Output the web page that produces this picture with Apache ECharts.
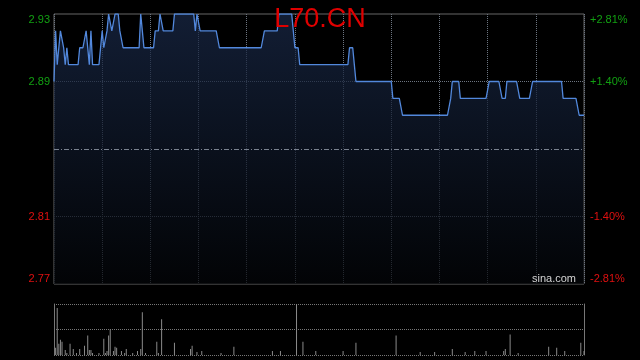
<!DOCTYPE html>
<html><head><meta charset="utf-8">
<script src="https://cdn.jsdelivr.net/npm/echarts@6/dist/echarts.min.js"></script>
<style>html,body{margin:0;padding:0;background:#000}#c{width:640px;height:360px}</style>
</head><body><div id="c"></div>
<script>
const titleText = 'L70.CN';
const prevClose = 2.85;
const priceTicks = [2.77, 2.81, 2.85, 2.89, 2.93];
const leftTickLabels = ['2.77', '2.81', '', '2.89', '2.93'];
const rightTickLabels = ['-2.81%', '-1.40%', '', '+1.40%', '+2.81%'];

// one price per minute slot (331 slots)
const prices = [
2.89,2.92,2.90,2.91,2.92,2.92,2.91,2.90,2.91,2.90,
2.90,2.90,2.90,2.90,2.90,2.90,2.91,2.91,2.91,2.91,
2.92,2.92,2.90,2.92,2.90,2.90,2.90,2.90,2.90,2.90,
2.92,2.91,2.91,2.92,2.93,2.93,2.92,2.92,2.93,2.93,
2.93,2.92,2.92,2.91,2.91,2.91,2.91,2.91,2.91,2.91,
2.91,2.91,2.91,2.91,2.93,2.92,2.91,2.91,2.91,2.91,
2.91,2.91,2.91,2.92,2.92,2.92,2.93,2.93,2.92,2.92,
2.92,2.92,2.92,2.92,2.92,2.93,2.93,2.93,2.93,2.93,
2.93,2.93,2.93,2.93,2.93,2.93,2.93,2.93,2.92,2.93,
2.93,2.92,2.92,2.92,2.92,2.92,2.92,2.92,2.92,2.92,
2.92,2.92,2.92,2.91,2.91,2.91,2.91,2.91,2.91,2.91,
2.91,2.91,2.91,2.91,2.91,2.91,2.91,2.91,2.91,2.91,
2.91,2.91,2.91,2.91,2.91,2.91,2.91,2.91,2.91,2.91,
2.91,2.92,2.92,2.92,2.92,2.92,2.92,2.92,2.92,2.92,
2.93,2.93,2.93,2.93,2.93,2.93,2.93,2.93,2.93,2.93,
2.91,2.91,2.91,2.90,2.90,2.90,2.90,2.90,2.90,2.90,
2.90,2.90,2.90,2.90,2.90,2.90,2.90,2.90,2.90,2.90,
2.90,2.90,2.90,2.90,2.90,2.90,2.90,2.90,2.90,2.90,
2.90,2.90,2.90,2.90,2.91,2.91,2.91,2.90,2.89,2.89,
2.89,2.89,2.89,2.89,2.89,2.89,2.89,2.89,2.89,2.89,
2.89,2.89,2.89,2.89,2.89,2.89,2.89,2.89,2.89,2.89,
2.89,2.88,2.88,2.88,2.88,2.88,2.88,2.87,2.87,2.87,
2.87,2.87,2.87,2.87,2.87,2.87,2.87,2.87,2.87,2.87,
2.87,2.87,2.87,2.87,2.87,2.87,2.87,2.87,2.87,2.87,
2.87,2.87,2.87,2.87,2.87,2.87,2.87,2.88,2.89,2.89,
2.89,2.89,2.89,2.88,2.88,2.88,2.88,2.88,2.88,2.88,
2.88,2.88,2.88,2.88,2.88,2.88,2.88,2.88,2.88,2.88,
2.88,2.89,2.89,2.89,2.89,2.89,2.89,2.89,2.89,2.88,
2.88,2.88,2.89,2.89,2.89,2.89,2.89,2.89,2.89,2.89,
2.88,2.88,2.88,2.88,2.88,2.88,2.88,2.88,2.89,2.89,
2.89,2.89,2.89,2.89,2.89,2.89,2.89,2.89,2.89,2.89,
2.89,2.89,2.89,2.89,2.89,2.89,2.89,2.88,2.88,2.88,
2.88,2.88,2.88,2.88,2.88,2.88,2.88,2.87,2.87,2.87,
2.87
];

// traded volume: minute slot and volume (other slots ~0)
const volMinutes = [1,2,3,4,5,7,8,10,12,14,16,19,21,22,23,24,28,31,32,33,34,35,37,38,39,42,44,45,49,52,54,55,57,64,65,67,75,85,86,89,92,104,112,136,141,151,155,163,180,188,213,228,237,248,256,262,269,280,281,284,289,308,313,318,328,330];
const volValues  = [7,46,11,15,13,5,2,11,6,2,6,9,19,5,5,2,2,16,2,4,19,25,4,8,7,4,2,6,2,4,6,42,2,13,2,35,12,6,9,3,4,2,8,4,4,50,13,4,4,12,19,3,3,6,3,4,4,4,6,20,2,8,7,4,12,4];

const slotCount = 331;
const volMax = 50;

const UP = '#12a012', DOWN = '#e01010';
function tickIdx(v) {
  for (let k = 0; k < priceTicks.length; k++) if (Math.abs(v - priceTicks[k]) < 1e-6) return k;
  return -1;
}
function tickColor(v) { return v > prevClose + 1e-6 ? UP : DOWN; }

const chart = echarts.init(document.getElementById('c'), null, {renderer: 'canvas'});
chart.setOption({
  animation: false,
  backgroundColor: '#000',
  title: {
    text: titleText, left: 'center', top: 1,
    textStyle: {color: '#e00000', fontSize: 27, fontWeight: 'normal', fontFamily: 'Liberation Sans, Arial, sans-serif'}
  },
  grid: [
    {left: 54, right: 56, top: 14, bottom: 76, show: true, borderColor: '#666', borderWidth: 1, backgroundColor: 'transparent'},
    {left: 54, right: 56, top: 304, height: 51}
  ],
  xAxis: [
    {gridIndex: 0, type: 'value', min: 0, max: slotCount - 1, interval: 30,
     axisLabel: {show: false}, axisTick: {show: false}, axisLine: {show: false},
     splitLine: {show: true, lineStyle: {color: '#6c7480', type: 'dotted', width: 1}}},
    {gridIndex: 1, type: 'value', min: 0, max: slotCount - 1,
     axisLabel: {show: false}, axisTick: {show: false}, axisLine: {show: false}, splitLine: {show: false}}
  ],
  yAxis: [
    {gridIndex: 0, type: 'value', position: 'left', min: priceTicks[0], max: priceTicks[4], interval: 0.04,
     axisLine: {show: false}, axisTick: {show: false},
     axisLabel: {
       show: true, margin: 4, fontSize: 11, fontFamily: 'Liberation Sans, Arial, sans-serif',
       verticalAlignMinLabel: 'bottom', verticalAlignMaxLabel: 'top',
       formatter: function (v) { const k = tickIdx(v); return k < 0 ? '' : leftTickLabels[k]; },
       color: function (v) { return tickColor(v); }
     },
     splitLine: {show: true, lineStyle: {type: 'dotted', width: 1,
       color: ['rgba(0,0,0,0)', '#6c7480', 'rgba(0,0,0,0)', '#6c7480', 'rgba(0,0,0,0)']}}},
    {gridIndex: 0, type: 'value', position: 'right', min: priceTicks[0], max: priceTicks[4], interval: 0.04,
     axisLine: {show: false}, axisTick: {show: false}, splitLine: {show: false},
     axisLabel: {
       show: true, margin: 6, fontSize: 11, fontFamily: 'Liberation Sans, Arial, sans-serif',
       verticalAlignMinLabel: 'bottom', verticalAlignMaxLabel: 'top',
       formatter: function (v) { const k = tickIdx(v); return k < 0 ? '' : rightTickLabels[k]; },
       color: function (v) { return tickColor(v); }
     }},
    {gridIndex: 1, type: 'value', position: 'left', min: 0, max: volMax, interval: volMax / 2,
     axisLine: {show: true, lineStyle: {color: '#777'}}, axisTick: {show: false}, axisLabel: {show: false},
     splitLine: {show: true, lineStyle: {type: 'dotted', color: '#777', width: 1}}},
    {gridIndex: 1, type: 'value', position: 'right', min: 0, max: volMax,
     axisLine: {show: true, lineStyle: {color: '#777'}}, axisTick: {show: false}, axisLabel: {show: false},
     splitLine: {show: false}}
  ],
  graphic: [
    {type: 'text', left: 532, top: 273, silent: true, z: 100,
     style: {text: 'sina.com', fill: '#d4d4d4', font: '11px Liberation Sans, Arial, sans-serif'}}
  ],
  series: [
    {
      type: 'line', xAxisIndex: 0, yAxisIndex: 0, symbol: 'none',
      data: prices.map(function (p, i) { return [i, p]; }),
      lineStyle: {color: '#5288dc', width: 1.3},
      areaStyle: {color: new echarts.graphic.LinearGradient(0, 0, 0, 1, [
        {offset: 0, color: '#1a2a4a'}, {offset: 1, color: '#030508'}
      ]), origin: 'start'},
      markLine: {
        silent: true, symbol: ['none', 'none'], label: {show: false},
        lineStyle: {color: '#7a8290', type: [5, 2, 1, 2], width: 1},
        data: [{yAxis: prevClose}]
      }
    },
    {
      type: 'bar', xAxisIndex: 1, yAxisIndex: 2, barWidth: 1,
      itemStyle: {color: '#8a8a8a'},
      data: volMinutes.map(function (m, k) { return [m, volValues[k]]; })
    }
  ]
});
</script>
</body></html>
